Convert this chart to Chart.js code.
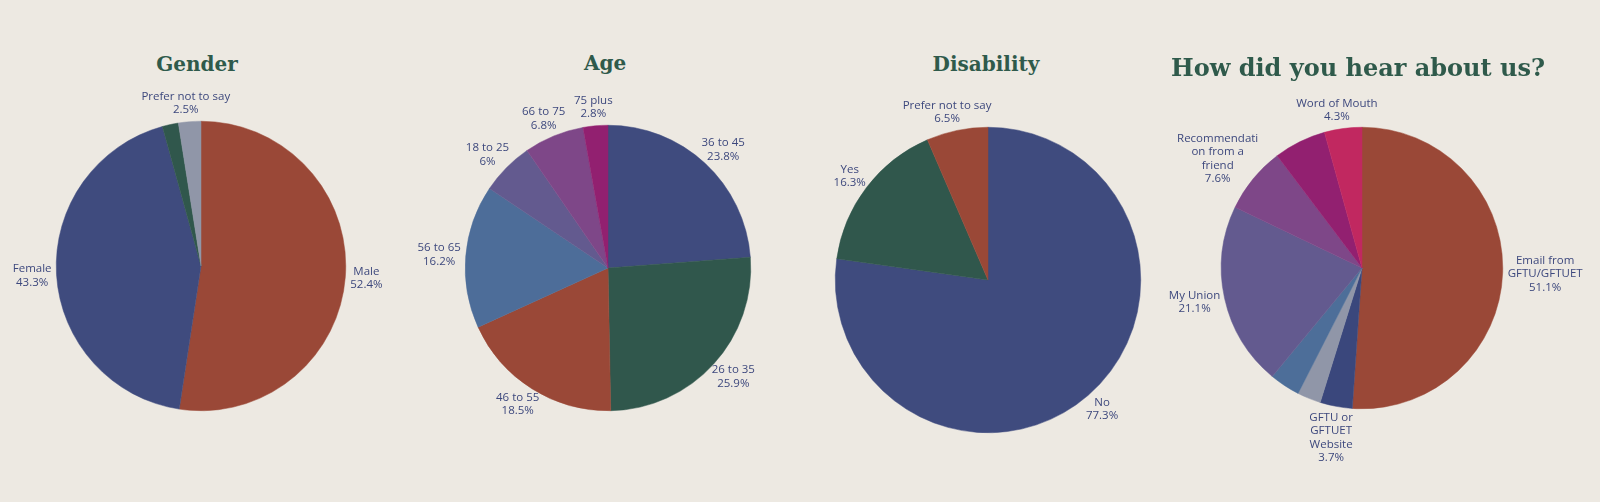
<!DOCTYPE html>
<html>
<head>
<meta charset="utf-8">
<script src="https://cdn.jsdelivr.net/npm/chart.js@4.4.1/dist/chart.umd.min.js"></script>
<style>
  body { margin: 0; background: #ede9e2; }
  #page { position: relative; width: 1600px; height: 502px; overflow: hidden; background: #ede9e2; }
  .title {
    position: absolute;
    transform: translate(-50%, -50%);
    font-family: "DejaVu Serif", serif;
    font-weight: bold;
    color: #2f5a4b;
    white-space: nowrap;
  }
  canvas { position: absolute; }
</style>
</head>
<body>
<div id="page"></div>
<script>
// Gender
const genderLabels = [["Male"], ["Female"], ["Other"], ["Prefer not to say"]];
const genderValues = [52.4, 43.3, 1.8, 2.5];
const genderShown = [true, true, false, true];

// Age
const ageLabels = [["36 to 45"], ["26 to 35"], ["46 to 55"], ["56 to 65"], ["18 to 25"], ["66 to 75"], ["75 plus"]];
const ageValues = [23.8, 25.9, 18.5, 16.2, 6, 6.8, 2.8];
const ageShown = [true, true, true, true, true, true, true];

// Disability
const disabilityLabels = [["No"], ["Yes"], ["Prefer not to say"]];
const disabilityValues = [77.3, 16.3, 6.5];
const disabilityShown = [true, true, true];

// How did you hear about us?
const hearLabels = [["Email from", "GFTU/GFTUET"], ["GFTU or", "GFTUET", "Website"], ["Social media"], ["Other"],
  ["My Union"], ["Recommendati", "on from a", "friend"], ["Newsletter"], ["Word of Mouth"]];
const hearValues = [51.1, 3.7, 2.7, 3.5, 21.1, 7.6, 6.0, 4.3];
const hearShown = [true, true, false, false, true, true, false, true];

const charts = [
  { title: "Gender", labels: genderLabels, values: genderValues, shown: genderShown,
    colors: ["#9a4837", "#3f4b7e", "#30574c", "#9096a8"],
    cx: 201, cy: 266, r: 145, pad: 75, tx: 197, ty: 64, tsize: 20 },
  { title: "Age", labels: ageLabels, values: ageValues, shown: ageShown,
    colors: ["#3f4b7e", "#30574c", "#9a4837", "#4d6d99", "#635a8f", "#7e4788", "#922070"],
    cx: 608, cy: 268, r: 143, pad: 75, tx: 605, ty: 63, tsize: 20 },
  { title: "Disability", labels: disabilityLabels, values: disabilityValues, shown: disabilityShown,
    colors: ["#3f4b7e", "#30574c", "#9a4837"],
    cx: 988, cy: 280, r: 153, pad: 70, tx: 986, ty: 64, tsize: 20 },
  { title: "How did you hear about us?", labels: hearLabels, values: hearValues, shown: hearShown,
    colors: ["#9a4837", "#3a477c", "#9096a8", "#4d6e99", "#635a8f", "#7e4788", "#922070", "#c12860"],
    cx: 1362, cy: 268, r: 141, pad: 90, tx: 1358, ty: 67, tsize: 24 }
];

// draws the outside labels next to each slice, like plotly does
const outsideLabels = {
  id: "outsideLabels",
  afterDatasetsDraw(chart, args, opts) {
    const ctx = chart.ctx;
    const meta = chart.getDatasetMeta(0);
    const values = chart.data.datasets[0].data;
    const lh = 13.5;
    ctx.save();
    ctx.font = "11.5px 'Open Sans'";
    ctx.fillStyle = "#3d487d";
    ctx.textAlign = "center";
    ctx.textBaseline = "middle";
    meta.data.forEach((arc, i) => {
      if (!opts.shown[i]) return;
      const p = arc.getProps(["x", "y", "startAngle", "endAngle", "outerRadius"], true);
      const mid = (p.startAngle + p.endAngle) / 2;
      const c = Math.cos(mid), s = Math.sin(mid);
      const lines = chart.data.labels[i].concat([values[i] + "%"]);
      const w = Math.max(...lines.map((l) => ctx.measureText(l).width));
      const h = lines.length * lh;
      const px = p.x + (p.outerRadius + 5) * c;
      const py = p.y + (p.outerRadius + 5) * s;
      const bx = px + c * w / 2;
      const by = py + s * h / 2;
      lines.forEach((l, j) => {
        ctx.fillText(l, bx, by - h / 2 + lh / 2 + j * lh);
      });
    });
    ctx.restore();
  }
};

const page = document.getElementById("page");

charts.forEach((cfg) => {
  const t = document.createElement("div");
  t.className = "title";
  t.textContent = cfg.title;
  t.style.left = cfg.tx + "px";
  t.style.top = cfg.ty + "px";
  t.style.fontSize = cfg.tsize + "px";
  page.appendChild(t);

  const size = 2 * (cfg.r + cfg.pad);
  const canvas = document.createElement("canvas");
  canvas.width = size;
  canvas.height = size;
  canvas.style.width = size + "px";
  canvas.style.height = size + "px";
  canvas.style.left = (cfg.cx - size / 2) + "px";
  canvas.style.top = (cfg.cy - size / 2) + "px";
  page.appendChild(canvas);

  new Chart(canvas.getContext("2d"), {
    type: "pie",
    data: {
      labels: cfg.labels,
      datasets: [{
        data: cfg.values,
        backgroundColor: cfg.colors,
        borderColor: cfg.colors,
        borderWidth: 0.5
      }]
    },
    options: {
      responsive: false,
      animation: false,
      layout: { padding: cfg.pad },
      plugins: {
        legend: { display: false },
        title: { display: false },
        tooltip: { enabled: true },
        outsideLabels: { shown: cfg.shown }
      }
    },
    plugins: [outsideLabels]
  });
});
</script>
</body>
</html>
